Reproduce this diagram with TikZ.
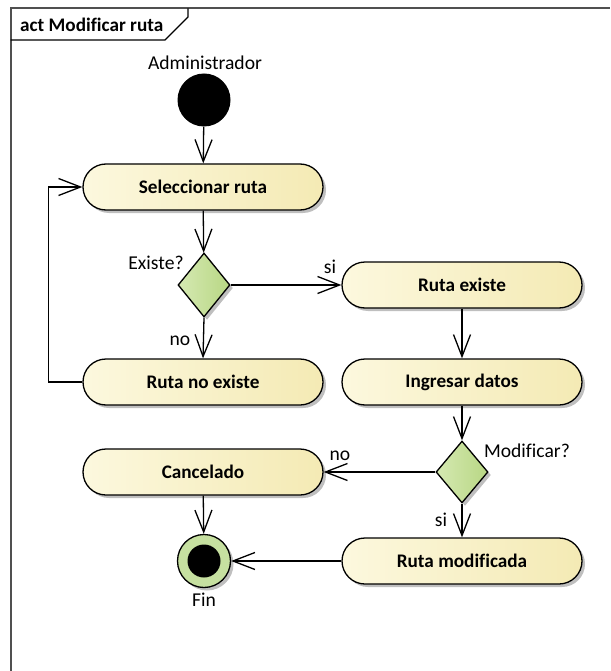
\documentclass[tikz,border=0pt]{standalone}
\usepackage{fontspec}
\setmainfont[Ligatures=CommonOff]{Carlito}
\usetikzlibrary{arrows.meta,shapes.geometric,shadows}

\definecolor{actleft}{HTML}{FCF8DE}
\definecolor{actright}{HTML}{F4EAB4}
\definecolor{decleft}{HTML}{D5E9B2}
\definecolor{decright}{HTML}{B8D784}
\definecolor{ringgreen}{HTML}{C6E0A0}
\definecolor{framegray}{HTML}{505050}

\tikzset{
  regtext/.style={font=\fontsize{19.6}{22}\selectfont, inner sep=0pt},
  boldtext/.style={font=\fontsize{19.2}{22}\selectfont\bfseries},
  softshadow/.style={drop shadow={shadow xshift=3pt, shadow yshift=-3pt, opacity=0.25, fill=black}},
  action/.style={boldtext, draw=black, line width=1.3pt, rounded corners=23pt,
    minimum width=240pt, minimum height=46pt, inner sep=0pt,
    left color=actleft, right color=actright, softshadow},
  decision/.style={diamond, draw=black, line width=1.3pt, inner sep=0pt,
    minimum width=52pt, minimum height=64pt,
    left color=decleft, right color=decright, softshadow},
  arr/.style={line width=1.3pt, -{Straight Barb[length=22pt, width=17pt, line width=1.3pt]}},
}

\begin{document}
\begin{tikzpicture}[x=1pt, y=-1pt]
  \useasboundingbox (0,0) rectangle (610,671);
  \fill[white] (0,0) rectangle (610,671);

  % diagram frame and its name tab
  \draw[framegray, line width=2pt] (10.5,671) -- (10.5,8.5) -- (610,8.5);
  \draw[black, line width=1.2pt] (10.5,40) -- (165,40) -- (188,17) -- (188,8.5);
  \node[boldtext, anchor=west, inner sep=0pt] (title) at (20,25) {act Modificar ruta};

  % start
  \node[regtext] (adminlbl) at (205,63) {Administrador};
  \node[circle, fill=black, minimum size=53pt, inner sep=0pt] (init) at (204,100) {};

  % actions
  \node[action] (sel)  at (203,187) {Seleccionar ruta};
  \node[action] (rno)  at (203,382) {Ruta no existe};
  \node[action] (rex)  at (462,285) {Ruta existe};
  \node[action] (ing)  at (462,382) {Ingresar datos};
  \node[action] (can)  at (203,472) {Cancelado};
  \node[action] (rmod) at (462,561) {Ruta modificada};

  % decisions
  \node[decision] (d1) at (204,285) {};
  \node[decision, minimum height=62pt] (d2) at (462,472) {};

  % end
  \node[circle, draw=black, line width=1.3pt, fill=ringgreen, minimum size=53pt,
        inner sep=0pt, softshadow] (fin) at (204,561) {};
  \node[circle, fill=black, minimum size=33pt, inner sep=0pt] (fincore) at (fin) {};
  \node[regtext] (finlbl) at (204,600) {Fin};

  % flows
  \draw[arr] (init) -- (sel);
  \draw[arr] (sel) -- (d1);
  \draw[arr] (d1.east) -- (rex.west);
  \draw[arr] (d1.south) -- (rno.north);
  \coordinate (loop) at (48.5,382);
  \draw[arr] (rno.west) -- (loop) |- (sel.west);
  \draw[arr] (rex) -- (ing);
  \draw[arr] (ing) -- (d2);
  \draw[arr] (d2.west) -- (can.east);
  \draw[arr] (d2.south) -- (rmod.north);
  \draw[arr] (can) -- (fin);
  \draw[arr] (rmod.west) -- (fin.east);

  % guard and decision labels
  \node[regtext] (existe) at (156,263) {Existe?};
  \node[regtext] (si1) at (330,267) {si};
  \node[regtext] (no1) at (180,341) {no};
  \node[regtext] (modif) at (527,451) {Modificar?};
  \node[regtext] (no2) at (340,456) {no};
  \node[regtext] (si2) at (441,520) {si};
\end{tikzpicture}
\end{document}
